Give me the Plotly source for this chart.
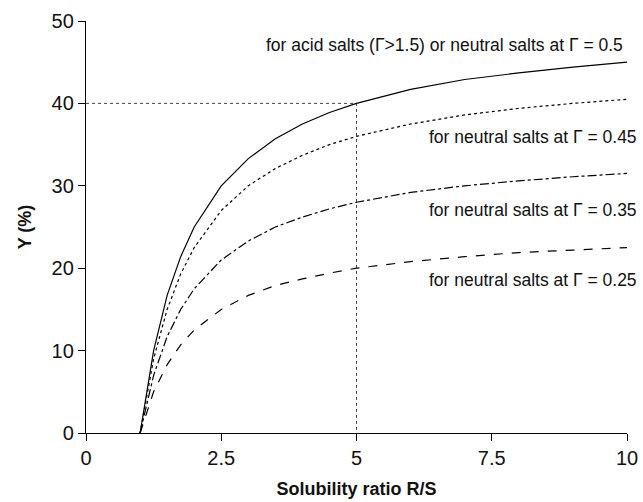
import plotly.graph_objects as go

# Solubility ratio R/S
rs = [1, 1.25, 1.5, 1.75, 2, 2.5, 3, 3.5, 4, 4.5, 5, 6, 7, 8, 9, 10]
# Y (%) for each curve
y_050 = [0, 10.0, 16.7, 21.4, 25.0, 30.0, 33.3, 35.7, 37.5, 38.9, 40.0, 41.7, 42.9, 43.7, 44.4, 45.0]
y_045 = [0, 9.0, 15.0, 19.3, 22.5, 27.0, 30.0, 32.1, 33.7, 35.0, 36.0, 37.5, 38.6, 39.4, 40.0, 40.5]
y_035 = [0, 7.0, 11.7, 15.0, 17.5, 21.0, 23.3, 25.0, 26.2, 27.2, 28.0, 29.2, 30.0, 30.6, 31.1, 31.5]
y_025 = [0, 5.0, 8.3, 10.7, 12.5, 15.0, 16.7, 17.9, 18.7, 19.4, 20.0, 20.8, 21.4, 21.9, 22.2, 22.5]

ref_x = [0, 5, 5]
ref_y = [40, 40, 0]

labels = [
    "for acid salts (\u0393>1.5) or neutral salts at \u0393 = 0.5",
    "for neutral salts at \u0393 = 0.45",
    "for neutral salts at \u0393 = 0.35",
    "for neutral salts at \u0393 = 0.25",
]
# label anchor positions (right edge in paper fraction, vertical centre in data units)
label_x = [0.996, 1.022, 1.022, 1.022]
label_y = [47.1, 35.9, 27.1, 18.6]

x_ticks = [0, 2.5, 5, 7.5, 10]
x_ticktext = ["0", "2.5", "5", "7.5", "10"]
y_ticks = [0, 10, 20, 30, 40, 50]

FONT = "Liberation Sans, Arial, Helvetica, sans-serif"

fig = go.Figure()
fig.add_trace(go.Scatter(x=ref_x, y=ref_y, mode="lines",
                         line=dict(color="#444444", width=1, dash="dot"),
                         hoverinfo="skip", showlegend=False))
styles = [("solid", y_050), ("dot", y_045), ("dashdot", y_035), ("dash", y_025)]
for dash, ys in styles:
    fig.add_trace(go.Scatter(x=rs, y=ys, mode="lines",
                             line=dict(color="black", width=1.2, dash=dash),
                             showlegend=False))

for t, lx, ly in zip(labels, label_x, label_y):
    fig.add_annotation(x=lx, y=ly, xref="paper", yref="y", text=t, showarrow=False,
                       xanchor="right", yanchor="middle",
                       font=dict(family=FONT, size=17.5, color="#111111"))

fig.update_layout(
    width=643, height=502,
    margin=dict(l=86, r=16, t=21, b=69, autoexpand=False),
    plot_bgcolor="white", paper_bgcolor="white",
    font=dict(family=FONT, color="#111111"),
    xaxis=dict(range=[0, 10], tickvals=x_ticks, ticktext=x_ticktext,
               automargin=False,
               showgrid=False, zeroline=False, showline=True,
               linecolor="black", linewidth=1.3,
               ticks="outside", ticklen=7, tickwidth=1.3, tickcolor="black",
               tickfont=dict(size=20),
               title=dict(text="<b>Solubility ratio R/S</b>", font=dict(size=18), standoff=14)),
    yaxis=dict(range=[0, 50], tickvals=y_ticks,
               automargin=False,
               showgrid=False, zeroline=False, showline=True,
               linecolor="black", linewidth=1.3,
               ticks="outside", ticklen=7, tickwidth=1.3, tickcolor="black",
               tickfont=dict(size=20),
               title=dict(text="<b>Y (%)</b>", font=dict(size=18), standoff=15)),
)

fig.write_html("out.html")
